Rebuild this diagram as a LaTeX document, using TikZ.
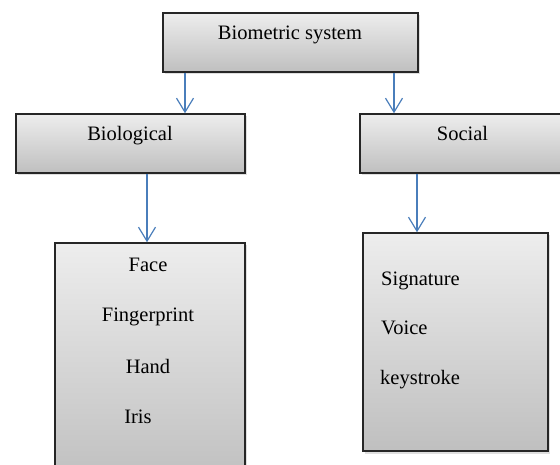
\documentclass[tikz,border=0pt]{standalone}
\usepackage{fontspec}
\setmainfont{Liberation Serif}
\usetikzlibrary{arrows.meta,shadows}
\definecolor{arrowblue}{HTML}{4A7EBB}
\tikzset{
    sysbox/.style={draw=black!85, line width=1.4pt, top color=black!7, bottom color=black!25, drop shadow={shadow xshift=2pt, shadow yshift=-2.5pt, opacity=0.25}, inner sep=0pt},
    systext/.style={font=\fontsize{20.5}{24}\selectfont, inner sep=0pt, anchor=base},
    sysarrow/.style={-{Straight Barb[length=14pt, width=17pt, line width=1.2pt]}, draw=arrowblue, line width=1.2pt}
}

\begin{document}
\begin{tikzpicture}[x=1pt, y=1pt]
    \useasboundingbox (0,0) rectangle (560,464);
    \clip (0,0) rectangle (560,464);
    % boxes
    \node[sysbox, minimum width=255pt, minimum height=59pt] (sys) at (290.5,421.5) {};
    \node[sysbox, minimum width=229pt, minimum height=59pt] (bio) at (130.5,320.5) {};
    \node[sysbox, minimum width=205pt, minimum height=59pt] (soc) at (462.5,320.5) {};
    \node[sysbox, minimum width=190pt, minimum height=240pt] (biolist) at (150,101) {};
    \node[sysbox, minimum width=185pt, minimum height=218pt] (soclist) at (455.5,122) {};
    % titles
    \node[systext] (systitle) at (290,424) {Biometric system};
    \node[systext] (biotitle) at (130,323) {Biological};
    \node[systext] (soctitle) at (462.5,323) {Social};
    % items
    \node[systext] (face) at (148,192) {Face};
    \node[systext] (finger) at (148,142) {Fingerprint};
    \node[systext] (hand) at (148,91) {Hand};
    \node[systext] (iris) at (138,41) {Iris};
    \node[systext, anchor=base west] (sign) at (381,178) {Signature};
    \node[systext, anchor=base west] (voice) at (381,129) {Voice};
    \node[systext, anchor=base west] (keys) at (380,80) {keystroke};
    % arrows
    \draw[sysarrow] ([xshift=-105.5pt]sys.south) -- ([xshift=-105.5pt]sys.south |- bio.north);
    \draw[sysarrow] ([xshift=103.5pt]sys.south) -- ([xshift=103.5pt]sys.south |- soc.north);
    \draw[sysarrow] ([xshift=16.5pt]bio.south) -- ([xshift=16.5pt]bio.south |- biolist.north);
    \draw[sysarrow] ([xshift=-45.5pt]soc.south) -- ([xshift=-45.5pt]soc.south |- soclist.north);
\end{tikzpicture}
\end{document}
